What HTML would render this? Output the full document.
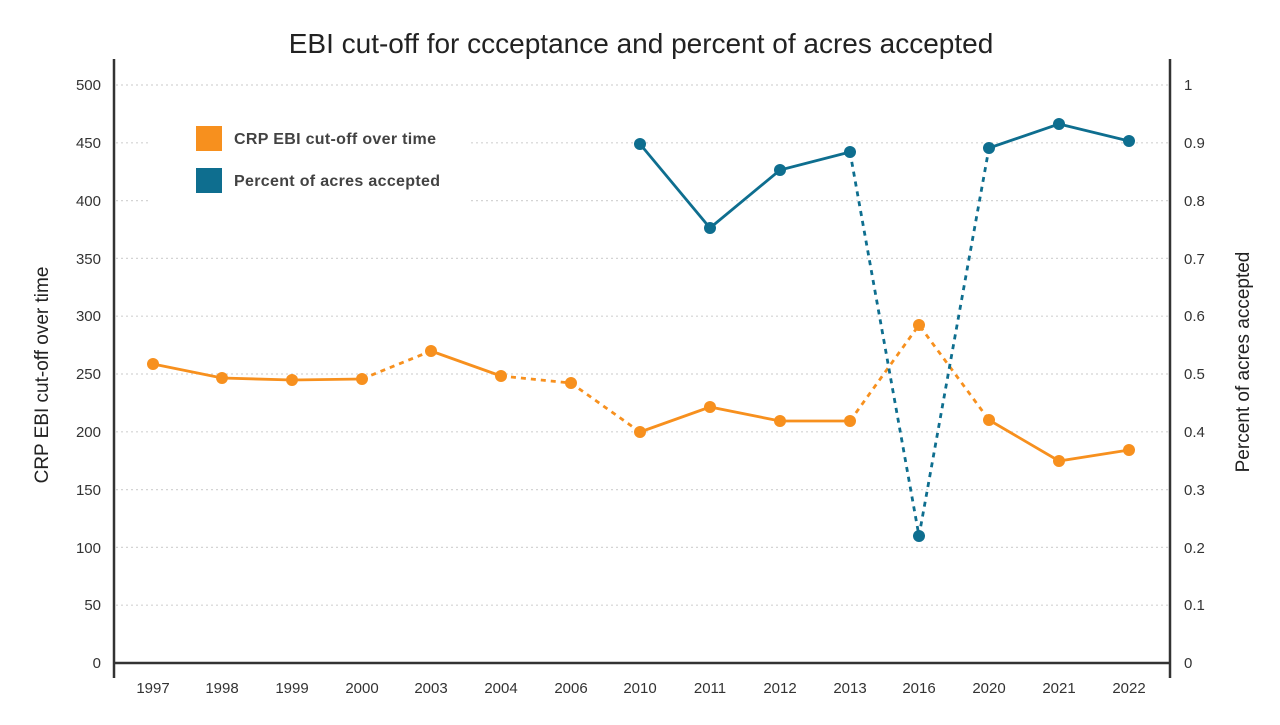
<!DOCTYPE html>
<html><head><meta charset="utf-8"><style>
html,body{margin:0;padding:0;background:#fff;}
svg{display:block;font-family:"Liberation Sans",sans-serif;}
</style></head><body>
<svg width="1280" height="725" viewBox="0 0 1280 725" xmlns="http://www.w3.org/2000/svg">
<text x="641" y="53" text-anchor="middle" font-size="28" fill="#222">EBI cut-off for ccceptance and percent of acres accepted</text>
<g stroke="#d4d4d4" stroke-width="1.2" stroke-dasharray="2,3">
<line x1="116" x2="1168" y1="85" y2="85"/><line x1="116" x2="1168" y1="142.8" y2="142.8"/>
<line x1="116" x2="1168" y1="200.6" y2="200.6"/><line x1="116" x2="1168" y1="258.4" y2="258.4"/>
<line x1="116" x2="1168" y1="316.2" y2="316.2"/><line x1="116" x2="1168" y1="374" y2="374"/>
<line x1="116" x2="1168" y1="431.8" y2="431.8"/><line x1="116" x2="1168" y1="489.6" y2="489.6"/>
<line x1="116" x2="1168" y1="547.4" y2="547.4"/><line x1="116" x2="1168" y1="605.2" y2="605.2"/>
</g>
<rect x="150" y="112" width="320" height="95" fill="#fff"/>
<g stroke="#333" stroke-width="2.5">
<line x1="114" y1="59" x2="114" y2="678"/>
<line x1="1170" y1="59" x2="1170" y2="678"/>
<line x1="114" y1="663" x2="1170" y2="663"/>
</g>
<g font-size="15" fill="#333" text-anchor="end">
<text x="101" y="90">500</text><text x="101" y="148">450</text><text x="101" y="206">400</text>
<text x="101" y="264">350</text><text x="101" y="321">300</text><text x="101" y="379">250</text>
<text x="101" y="437">200</text><text x="101" y="495">150</text><text x="101" y="553">100</text>
<text x="101" y="610">50</text><text x="101" y="668">0</text>
</g>
<g font-size="15" fill="#333">
<text x="1184" y="90">1</text><text x="1184" y="148">0.9</text><text x="1184" y="206">0.8</text>
<text x="1184" y="264">0.7</text><text x="1184" y="321">0.6</text><text x="1184" y="379">0.5</text>
<text x="1184" y="437">0.4</text><text x="1184" y="495">0.3</text><text x="1184" y="553">0.2</text>
<text x="1184" y="610">0.1</text><text x="1184" y="668">0</text>
</g>
<g font-size="15" fill="#333" text-anchor="middle">
<text x="153" y="693">1997</text><text x="222" y="693">1998</text><text x="292" y="693">1999</text>
<text x="362" y="693">2000</text><text x="431" y="693">2003</text><text x="501" y="693">2004</text>
<text x="571" y="693">2006</text><text x="640" y="693">2010</text><text x="710" y="693">2011</text>
<text x="780" y="693">2012</text><text x="850" y="693">2013</text><text x="919" y="693">2016</text>
<text x="989" y="693">2020</text><text x="1059" y="693">2021</text><text x="1129" y="693">2022</text>
</g>
<text transform="translate(48,375) rotate(-90)" text-anchor="middle" font-size="19" fill="#222">CRP EBI cut-off over time</text>
<text transform="translate(1249,362) rotate(-90)" text-anchor="middle" font-size="19" fill="#222">Percent of acres accepted</text>
<g stroke="#F7901E" stroke-width="2.8" fill="none">
<polyline points="153,364 222,378 292,380 362,379"/>
<polyline points="431,351 501,376"/>
<polyline points="640,432 710,407 780,421 850,421"/>
<polyline points="989,420 1059,461 1129,450"/>
<g stroke-dasharray="5,5"><polyline points="362,379 431,351"/><polyline points="501,376 571,383 640,432"/><polyline points="850,421 919,325 989,420"/></g>
</g>
<g fill="#F7901E">
<circle cx="153" cy="364" r="6"/><circle cx="222" cy="378" r="6"/><circle cx="292" cy="380" r="6"/>
<circle cx="362" cy="379" r="6"/><circle cx="431" cy="351" r="6"/><circle cx="501" cy="376" r="6"/>
<circle cx="571" cy="383" r="6"/><circle cx="640" cy="432" r="6"/><circle cx="710" cy="407" r="6"/>
<circle cx="780" cy="421" r="6"/><circle cx="850" cy="421" r="6"/><circle cx="919" cy="325" r="6"/>
<circle cx="989" cy="420" r="6"/><circle cx="1059" cy="461" r="6"/><circle cx="1129" cy="450" r="6"/>
</g>
<g stroke="#0E6E8F" stroke-width="2.8" fill="none">
<polyline points="640,144 710,228 780,170 850,152"/>
<polyline points="989,148 1059,124 1129,141"/>
<polyline stroke-dasharray="5,5" points="850,152 919,536 989,148"/>
</g>
<g fill="#0E6E8F">
<circle cx="640" cy="144" r="6"/><circle cx="710" cy="228" r="6"/><circle cx="780" cy="170" r="6"/>
<circle cx="850" cy="152" r="6"/><circle cx="919" cy="536" r="6"/><circle cx="989" cy="148" r="6"/>
<circle cx="1059" cy="124" r="6"/><circle cx="1129" cy="141" r="6"/>
</g>
<rect x="196" y="126" width="26" height="25" fill="#F7901E"/>
<rect x="196" y="168" width="26" height="25" fill="#0E6E8F"/>
<g font-size="16" fill="#222" font-weight="bold" opacity="0.85">
<text x="234" y="144" textLength="202">CRP EBI cut-off over time</text>
<text x="234" y="186" textLength="206">Percent of acres accepted</text>
</g>
</svg>
</body></html>
